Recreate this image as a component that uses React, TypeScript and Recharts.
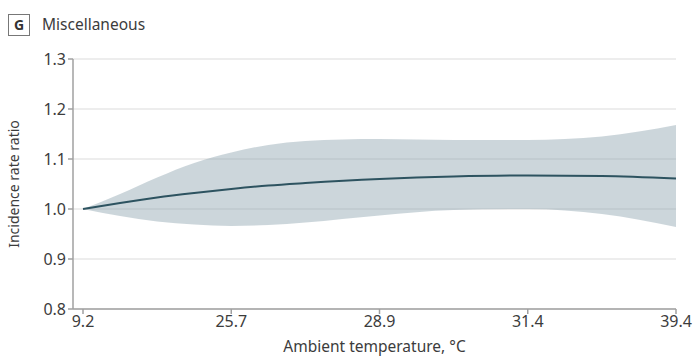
import {
  ComposedChart,
  Area,
  Line,
  XAxis,
  YAxis,
  CartesianGrid,
  Label
} from 'recharts'

// x positions are evenly spaced percentiles of the temperature distribution
const tempLabels = ['9.2', '25.7', '28.9', '31.4', '39.4']
const xPos = [0, 0.25, 0.5, 0.75, 1, 1.25, 1.5, 2, 2.5, 3, 3.5, 4]
const irr = [1.0, 1.012, 1.023, 1.032, 1.04, 1.047, 1.052, 1.06, 1.065, 1.067, 1.066, 1.061]
const lower = [1.0, 0.986, 0.975, 0.969, 0.966, 0.968, 0.973, 0.987, 0.998, 1.0, 0.99, 0.964]
const upper = [1.0, 1.03, 1.063, 1.092, 1.113, 1.128, 1.136, 1.14, 1.138, 1.138, 1.145, 1.168]
const yTicks = [0.8, 0.9, 1.0, 1.1, 1.2, 1.3]

const data = xPos.map((x, i) => ({
  x,
  irr: irr[i],
  ci: [lower[i], upper[i]]
}))

const font = '"Noto Sans", sans-serif'
const textColor = '#3c3c3c'

export default function App() {
  return (
    <div style={{ position: 'absolute', left: 0, top: 0, width: 697, height: 360, background: '#fff', fontFamily: font }}>
      <div
        style={{
          position: 'absolute',
          left: 8,
          top: 14,
          width: 20,
          height: 20,
          border: '1px solid #777',
          fontSize: 14,
          fontWeight: 700,
          color: '#333',
          textAlign: 'center',
          lineHeight: '20px'
        }}
      >
        G
      </div>
      <div style={{ position: 'absolute', left: 42, top: 13, fontSize: 15.5, color: textColor, lineHeight: '22px' }}>
        Miscellaneous
      </div>
      <ComposedChart
        width={697}
        height={360}
        data={data}
        margin={{ top: 59, right: 21, bottom: 0, left: 0 }}
      >
        <CartesianGrid vertical={false} stroke="#dcdcdc" strokeWidth={1.2} />
        <XAxis
          dataKey="x"
          type="number"
          domain={[-0.0675, 4]}
          ticks={[0, 1, 2, 3, 4]}
          tickFormatter={(v: number) => tempLabels[v]}
          allowDataOverflow
          height={51}
          stroke="#a0a0a0"
          strokeWidth={1.5}
          tickSize={5}
          tick={{ fill: textColor, fontSize: 16, fontFamily: font }}
        >
          <Label
            value="Ambient temperature, °C"
            position="insideBottom"
            offset={8}
            style={{ fill: textColor, fontSize: 15.5, fontFamily: font }}
          />
        </XAxis>
        <YAxis
          type="number"
          domain={[0.8, 1.3]}
          ticks={yTicks}
          tickFormatter={(v: number) => v.toFixed(1)}
          width={73}
          stroke="#a0a0a0"
          strokeWidth={1.5}
          tickSize={5}
          tick={{ fill: textColor, fontSize: 16, fontFamily: font }}
        >
          <Label
            value="Incidence rate ratio"
            angle={-90}
            position="insideLeft"
            offset={14}
            style={{ textAnchor: 'middle', fill: textColor, fontSize: 14, fontFamily: font }}
          />
        </YAxis>
        <Area
          dataKey="ci"
          type="monotone"
          stroke="none"
          fill="#8fa5b0"
          fillOpacity={0.45}
          isAnimationActive={false}
        />
        <Line
          dataKey="irr"
          type="monotone"
          stroke="#2d5360"
          strokeWidth={2}
          dot={false}
          isAnimationActive={false}
        />
      </ComposedChart>
    </div>
  )
}
